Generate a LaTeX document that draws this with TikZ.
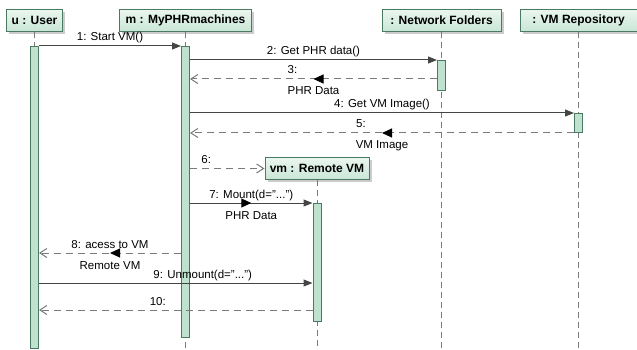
\documentclass[tikz,border=0pt]{standalone}
\usepackage{fontspec}
\setmainfont{Liberation Sans}
\usetikzlibrary{arrows.meta,shadows,decorations.markings}
\definecolor{hdrtop}{HTML}{EAF6EF}
\definecolor{hdrbot}{HTML}{C9E6D6}
\definecolor{barfill}{HTML}{BFE2CF}
\definecolor{edge}{HTML}{4A7A61}
\definecolor{msgline}{HTML}{454545}
\definecolor{retline}{HTML}{7A7A7A}
\newcommand{\msgfont}{\fontsize{11.5}{13}\selectfont}

\begin{document}
\begin{tikzpicture}[x=1pt,y=-1pt,
  hdr/.style={draw=edge,line width=1pt,top color=hdrtop,bottom color=hdrbot,
    font=\bfseries\fontsize{12}{14}\selectfont,minimum height=22pt,inner sep=0pt,
    drop shadow={shadow xshift=2.5pt,shadow yshift=-2.5pt,fill=black!40,opacity=0.5}},
  bar/.style={draw=edge,line width=1pt,fill=barfill,minimum width=8pt,inner sep=0pt,anchor=north},
  life/.style={draw=retline,line width=0.8pt,dash pattern=on 6pt off 4pt},
  call/.style={draw=msgline,line width=1pt,-{Triangle[length=9pt,width=7pt]}},
  reply/.style={draw=retline,line width=1pt,dash pattern=on 7pt off 5pt,-{Straight Barb[length=7pt,width=9pt]}},
  midtip/.style={postaction={decorate},decoration={markings,
    mark=at position 0.5 with {\arrow{Triangle[length=10pt,width=9pt,color=black]}}}},
  lbl/.style={font=\msgfont,anchor=base,yshift=5pt,inner sep=0pt},
  ret/.style={font=\msgfont,anchor=base,yshift=-16pt,inner sep=0pt},
  num/.style={xshift=-21pt}]
  \useasboundingbox (0,0) rectangle (637,350);
  \def\xu{34.5}
  \def\xm{185.5}
  \def\xn{441.5}
  \def\xr{578.5}
  \def\xv{317}
  \coordinate (bot) at (0,350);
  \coordinate (y3)  at (0,79);
  \coordinate (y8)  at (0,253);
  \coordinate (y9)  at (0,283);
  \coordinate (y10) at (0,310);
  \node[hdr,minimum width=56pt]  (u)   at (\xu,20.5)  {u : User};
  \node[hdr,minimum width=132pt] (m)   at (\xm,20.5)  {m : MyPHRmachines};
  \node[hdr,minimum width=119pt] (nf)  at (\xn,20.5)  {: Network Folders};
  \node[hdr,minimum width=117pt] (vr)  at (\xr,20.5)  {: VM Repository};
  \node[hdr,minimum width=104pt] (rvm) at (\xv,168.5) {vm : Remote VM};
  \draw[life] (u.south)   -- (u.south |- bot);
  \draw[life] (m.south)   -- (m.south |- bot);
  \draw[life] (nf.south)  -- (nf.south |- bot);
  \draw[life] (vr.south)  -- (vr.south |- bot);
  \draw[life] (rvm.south) -- (rvm.south |- bot);
  \node[bar,minimum height=302pt] (ubar)   at (\xu,46)  {};
  \node[bar,minimum height=291pt] (mbar)   at (\xm,46)  {};
  \node[bar,minimum height=30pt]  (nfbar)  at (\xn,60)  {};
  \node[bar,minimum height=19pt]  (vrbar)  at (\xr,113) {};
  \node[bar,minimum height=118pt] (rvmbar) at (\xv,203) {};
  \draw[call] (ubar.north east) -- (mbar.north west)
    node[lbl,midway] (l1) {1: Start VM()};
  \draw[call] (mbar.east |- nfbar.north) -- (nfbar.north west)
    node[lbl,midway] (l2) {2: Get PHR data()};
  \draw[reply,midtip] (nfbar.west |- y3) -- (mbar.east |- y3)
    node[lbl,num,midway] (l3) {3:} node[ret,midway] (r3) {PHR Data};
  \draw[call] (mbar.east |- vrbar.north) -- (vrbar.north west)
    node[lbl,midway] (l4) {4: Get VM Image()};
  \draw[reply,midtip] (vrbar.south west) -- (mbar.east |- vrbar.south)
    node[lbl,num,midway] (l5) {5:} node[ret,midway] (r5) {VM Image};
  \draw[reply] (mbar.east |- rvm.west) -- (rvm.west)
    node[lbl,num,midway] (l6) {6:};
  \draw[call,midtip] (mbar.east |- rvmbar.north) -- (rvmbar.north west)
    node[lbl,midway] (l7) {7: Mount(d="...")} node[ret,midway] (r7) {PHR Data};
  \draw[reply,midtip] (mbar.west |- y8) -- (ubar.east |- y8)
    node[lbl,midway] (l8) {8: acess to VM} node[ret,midway] (r8) {Remote VM};
  \draw[call] (ubar.east |- y9) -- (rvmbar.west |- y9)
    node[lbl,midway,xshift=27pt] (l9) {9: Unmount(d="...")};
  \draw[reply] (rvmbar.west |- y10) -- (ubar.east |- y10)
    node[lbl,midway,xshift=-18pt] (l10) {10:};
\end{tikzpicture}
\end{document}
